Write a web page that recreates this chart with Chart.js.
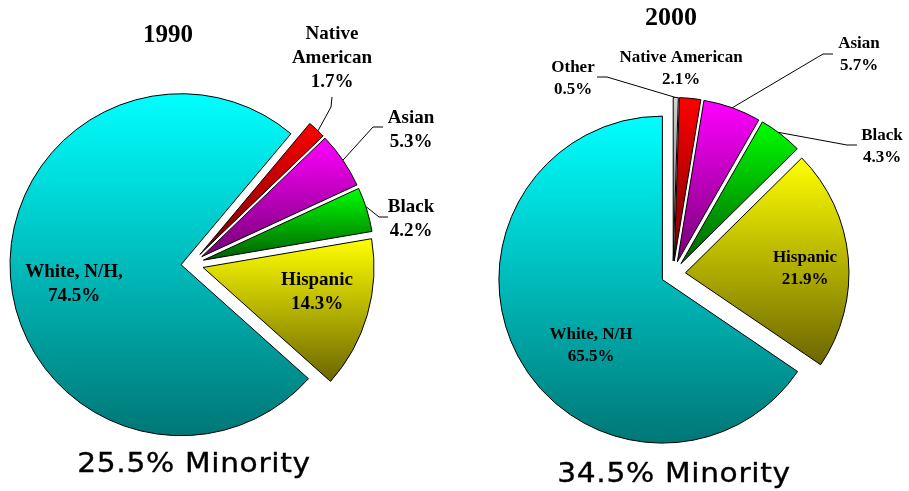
<!DOCTYPE html>
<html>
<head>
<meta charset="utf-8">
<script src="https://cdn.jsdelivr.net/npm/chart.js@4"></script>
<style>
  html, body { margin: 0; padding: 0; background: #fff; }
  #page { position: relative; width: 909px; height: 491px; overflow: hidden; }
  canvas { position: absolute; top: 0; }
  .title { position: absolute; width: 100px; font-family: "Liberation Serif", "Times New Roman", serif; font-weight: bold; line-height: 1; text-align: center; color: #000; }
  .caption { position: absolute; width: 300px; font-family: "DejaVu Sans", sans-serif; font-size: 27px; line-height: 1; letter-spacing: 0.6px; text-align: center; color: #000;
             transform: scaleX(1.1); transform-origin: 150px 0; -webkit-text-stroke: 0.35px #000; }
</style>
</head>
<body>
<div id="page">
  <canvas id="pie1990" width="450" height="491" style="left:0"></canvas>
  <canvas id="pie2000" width="459" height="491" style="left:450px"></canvas>
  <div class="title" style="left:118px; top:21px; font-size:25px">1990</div>
  <div class="title" style="left:621px; top:4px; font-size:26px">2000</div>
  <div class="caption" style="left:44px; top:449px">25.5% Minority</div>
  <div class="caption" style="left:524px; top:459px">34.5% Minority</div>
</div>
<script>
// ---- data (percent of population) ----
var groups1990 = ['Native American', 'Asian', 'Black', 'Hispanic', 'White, N/H'];
var values1990 = [1.7, 5.3, 4.2, 14.3, 74.5];
var text1990 = [['Native', 'American'], ['Asian'], ['Black'], ['Hispanic'], ['White, N/H,']];

var groups2000 = ['Other', 'Native American', 'Asian', 'Black', 'Hispanic', 'White, N/H'];
var values2000 = [0.5, 2.1, 5.7, 4.3, 21.9, 65.5];
var text2000 = [['Other'], ['Native American'], ['Asian'], ['Black'], ['Hispanic'], ['White, N/H']];

// gradient colours (top of slice -> bottom of slice)
var colorTop = {
    'Other': '#d4d4d4', 'Native American': '#ff0000', 'Asian': '#ff00ff',
    'Black': '#00ff00', 'Hispanic': '#ffff00', 'White, N/H': '#00ffff'
};
var colorBottom = {
    'Other': '#5a5a5a', 'Native American': '#780000', 'Asian': '#760076',
    'Black': '#005e00', 'Hispanic': '#6b6600', 'White, N/H': '#007777'
};

// label placement, relative to the pie centre
var layout1990 = {
    text: text1990, fontSize: 19, lineHeight: 24,
    explode: [13, 13, 13, 12.5, 10],
    labels: [
        { dx: 141, by: -225, leader: { f: 0.6, end: [141, -167], elbow: [140, -157] } },
        { dx: 220, by: -141, leader: { f: 0.5, end: [192, -137], elbow: [182, -137] } },
        { dx: 220, by: -52, leader: { f: 0.43, end: [197, -47], elbow: [188, -47] } },
        { dx: 126, by: 21 },
        { dx: -117, by: 13 }
    ]
};
var layout2000 = {
    text: text2000, fontSize: 17, lineHeight: 22,
    explode: [13, 13, 13, 13, 12.5, 12],
    labels: [
        { dx: -100, by: -202, leader: { f: 0.5, end: [-76, -197], elbow: [-66, -197] } },
        { dx: 8, by: -212 },
        { dx: 186, by: -226, leader: { f: 0.5, end: [160, -220], elbow: [150, -220] } },
        { dx: 209, by: -134, leader: { f: 0.43, end: [184, -129], elbow: [174, -129] } },
        { dx: 132, by: -12 },
        { dx: -82, by: 65 }
    ]
};

// explode slices, per-slice vertical gradient, labels with leader lines
function makePieStyle(layout, groups) {
    return {
        id: 'pieStyle',
        afterDatasetUpdate: function(chart, args) {
            var arcs = args.meta.data;
            for (var i = 0; i < arcs.length; i++) {
                var d = layout.explode[i] || 0;
                var mid = (arcs[i].startAngle + arcs[i].endAngle) / 2;
                arcs[i].x += d * Math.cos(mid);
                arcs[i].y += d * Math.sin(mid);
            }
        },
        beforeDatasetsDraw: function(chart) {
            var ctx = chart.ctx;
            var arcs = chart.getDatasetMeta(0).data;
            for (var i = 0; i < arcs.length; i++) {
                var arc = arcs[i];
                var ys = [arc.y];
                for (var k = 0; k <= 90; k++) {
                    var a = arc.startAngle + (arc.endAngle - arc.startAngle) * k / 90;
                    ys.push(arc.y + arc.outerRadius * Math.sin(a));
                }
                var top = Math.min.apply(null, ys);
                var bottom = Math.max.apply(null, ys);
                var g = ctx.createLinearGradient(0, top, 0, bottom);
                g.addColorStop(0, colorTop[groups[i]]);
                g.addColorStop(1, colorBottom[groups[i]]);
                arc.options = Object.assign({}, arc.options, { backgroundColor: g });
            }
        },
        afterDatasetsDraw: function(chart) {
            var ctx = chart.ctx;
            var area = chart.chartArea;
            var cx = (area.left + area.right) / 2;
            var cy = (area.top + area.bottom) / 2;
            var arcs = chart.getDatasetMeta(0).data;
            var values = chart.data.datasets[0].data;
            ctx.save();
            ctx.font = 'bold ' + layout.fontSize + 'px "Liberation Serif", "Times New Roman", serif';
            ctx.fillStyle = '#000';
            ctx.strokeStyle = '#000';
            ctx.lineWidth = 1;
            ctx.textAlign = 'center';
            ctx.textBaseline = 'alphabetic';
            for (var i = 0; i < layout.labels.length; i++) {
                var lab = layout.labels[i];
                var lines = layout.text[i].concat([values[i].toFixed(1) + '%']);
                for (var k = 0; k < lines.length; k++) {
                    ctx.fillText(lines[k], cx + lab.dx, cy + lab.by + k * layout.lineHeight);
                }
                if (lab.leader) {
                    var arc = arcs[i];
                    var a = arc.startAngle + (arc.endAngle - arc.startAngle) * lab.leader.f;
                    ctx.beginPath();
                    ctx.moveTo(cx + lab.leader.end[0], cy + lab.leader.end[1]);
                    ctx.lineTo(cx + lab.leader.elbow[0], cy + lab.leader.elbow[1]);
                    ctx.lineTo(arc.x + arc.outerRadius * Math.cos(a), arc.y + arc.outerRadius * Math.sin(a));
                    ctx.stroke();
                }
            }
            ctx.restore();
        }
    };
}

function makePie(canvasId, groups, values, rotation, radius, padding, layout) {
    return new Chart(document.getElementById(canvasId), {
        type: 'pie',
        data: {
            labels: groups,
            datasets: [{
                data: values,
                backgroundColor: groups.map(function(g) { return colorTop[g]; }),
                borderColor: '#000',
                borderWidth: 1,
                borderJoinStyle: 'miter',
                clip: false
            }]
        },
        options: {
            responsive: false,
            animation: false,
            events: [],
            rotation: rotation,
            radius: radius,
            layout: { padding: padding },
            plugins: { legend: { display: false }, tooltip: { enabled: false } }
        },
        plugins: [makePieStyle(layout, groups)]
    });
}

makePie('pie1990', groups1990, values1990, 40, 171, { left: 0, right: 68, top: 37, bottom: 0 }, layout1990);
makePie('pie2000', groups2000, values2000, 0, 163.5, { left: 0, right: 13, top: 57, bottom: 0 }, layout2000);
</script>
</body>
</html>
